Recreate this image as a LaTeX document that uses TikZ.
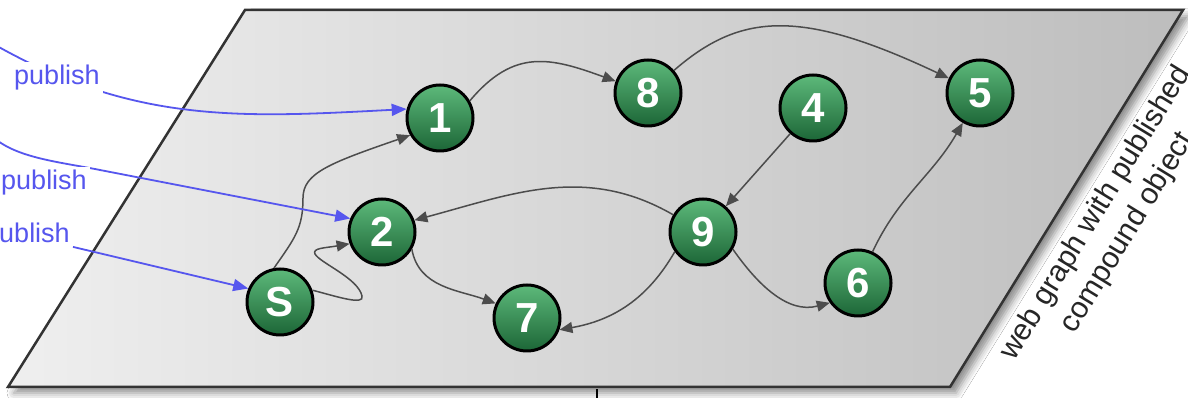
\documentclass[tikz,border=0pt]{standalone}
\usepackage{fontspec}
\setmainfont{Liberation Sans}
\usetikzlibrary{arrows.meta,shadows.blur}
\definecolor{sitetop}{HTML}{5DB97A}
\definecolor{sitebottom}{HTML}{1C6637}
\definecolor{pubblue}{HTML}{5656EE}
\definecolor{planeleft}{HTML}{EFEFEF}
\definecolor{planeright}{HTML}{BDBDBD}

\begin{document}
\begin{tikzpicture}[x=1pt,y=1pt,
  site/.style={draw,circle,line width=3pt,minimum size=66pt,inner sep=0pt,top color=sitetop,bottom color=sitebottom,text=white,font=\fontsize{42}{42}\selectfont\bfseries},
  link/.style={draw=black!70,line width=1.5pt,-{Triangle[length=13pt,width=11pt]}},
  pub/.style={draw=pubblue,line width=1.8pt,-{Triangle[length=15pt,width=12pt]}},
  publabel/.style={fill=white,text=pubblue,inner sep=3pt,font=\fontsize{27}{27}\selectfont}]
\clip (0,0) rectangle (1188,398);
\fill[white] (0,0) rectangle (1188,398);
\draw[black!80,line width=2.5pt,left color=planeleft,right color=planeright,blur shadow={shadow xshift=6pt,shadow yshift=-6pt,shadow blur radius=7pt,shadow opacity=45}] (8,11) -- (950,11) -- (1183,388) -- (245,388) -- cycle;
\draw[line width=1.5pt] (597,0) -- (597,9);
\node[site] (S) at (280,96) {S};
\node[site] (1) at (440,280) {1};
\node[site] (2) at (382,166) {2};
\node[site] (7) at (527,80) {7};
\node[site] (8) at (648,305) {8};
\node[site] (9) at (703,166) {9};
\node[site] (4) at (813,290) {4};
\node[site] (5) at (980,305) {5};
\node[site] (6) at (858,115) {6};
\node[text=black!85,rotate=58.5,align=center,font=\fontsize{30}{37}\selectfont] (caption) at (1112,175) {web graph with published\\compound object};
\draw[link] (1.30) to[out=50,in=160,looseness=1.2] (8);
\draw[link] (8) .. controls (740,385) and (800,390) .. (5);
\draw[link] (4) -- (9);
\draw[link] (9.150) to[out=150,in=15] (2.20);
\draw[link] (2.-30) to[out=-80,in=160] (7.155);
\draw[link] (9.-145) to[out=-120,in=10] (7.-20);
\draw[link] (9.-30) to[out=-55,in=-165] (6.-145);
\draw[link] (6) to[out=65,in=-120] (5);
\draw[link] (S.100) .. controls (295,160) and (303,170) .. (303,200) .. controls (303,225) and (330,235) .. (1.-150);
\draw[link] (S.20) .. controls (335,102) and (365,92) .. (362,102) .. controls (358,120) and (320,135) .. (315,144) .. controls (312,150) and (325,150) .. (2.-160);
\coordinate (pa) at (-10,356);
\coordinate (pb) at (-8,262);
\draw[pub] (pa) to[out=-30,in=183] (1.165);
\draw[pub] (pb) .. controls (15,240) and (60,236) .. (100,228) -- (2.157);
\node[publabel] (pla) at (57,320) {publish};
\node[publabel] (plb) at (44,215) {publish};
\node[publabel] (plc) at (27,162) {publish};
\draw[pub] (plc) -- (S.157);
\end{tikzpicture}
\end{document}
